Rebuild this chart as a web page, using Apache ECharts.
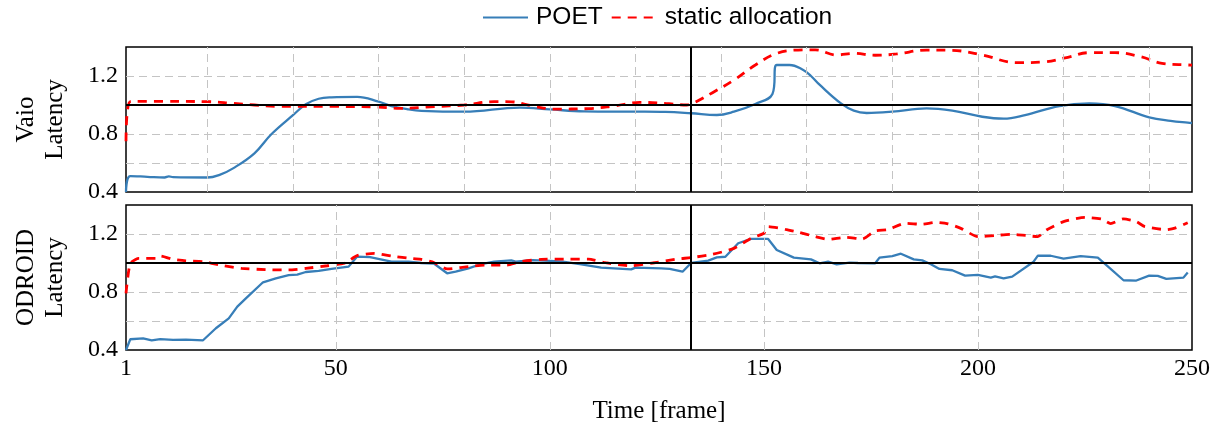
<!DOCTYPE html>
<html>
<head>
<meta charset="utf-8">
<script src="https://cdn.jsdelivr.net/npm/echarts@6/dist/echarts.min.js"></script>
<style>html,body{margin:0;padding:0;background:#fff;}#c{width:1217px;height:425px;}</style>
</head>
<body>
<div id="c"></div>
<script>
// ---- data ----
const xLabelValues = [1, 50, 100, 150, 200, 250];
const yLabelValues = [0.4, 0.8, 1.2];
const vaioGridFrames = [20, 40, 60, 80, 100, 120, 140, 160, 180, 200, 220, 240];
const odroidGridFrames = [50, 100, 150, 200];
const switchFrame = 133;
const targetLatency = 1.0;

const vaioPoetFrames = [1, 2, 6, 10, 11, 12, 20, 23, 26, 31, 35, 40, 43, 46, 49, 55, 60, 63, 67, 70, 80, 93, 100, 108, 120, 127, 133, 139, 143, 148, 152, 153, 156, 159, 161, 163, 168, 171, 174, 180, 188, 194, 201, 206, 211, 219, 226, 232, 240, 245, 249, 250];
const vaioPoetValues = [0.40, 0.51, 0.505, 0.50, 0.508, 0.502, 0.50, 0.52, 0.563, 0.667, 0.80, 0.93, 1.005, 1.043, 1.053, 1.056, 1.023, 0.993, 0.97, 0.96, 0.954, 0.982, 0.97, 0.956, 0.954, 0.952, 0.943, 0.931, 0.954, 1.007, 1.076, 1.276, 1.276, 1.245, 1.20, 1.14, 1.011, 0.961, 0.945, 0.954, 0.977, 0.961, 0.919, 0.906, 0.931, 0.993, 1.011, 0.993, 0.915, 0.89, 0.878, 0.876];

const vaioStaticFrames = [1, 2, 10, 20, 26, 31, 37, 50, 60, 65, 73, 80, 87, 91, 96, 101, 109, 115, 121, 127, 132, 134, 138, 143, 148, 153, 158, 162, 167, 171, 176, 181, 188, 194, 201, 209, 215, 221, 226, 232, 238, 243, 249, 250];
const vaioStaticValues = [0.75, 1.023, 1.025, 1.023, 1.011, 1.0, 0.99, 0.99, 0.985, 0.977, 0.989, 1.0, 1.023, 1.022, 0.993, 0.972, 0.975, 0.993, 1.018, 1.011, 1.0, 1.02, 1.085, 1.172, 1.276, 1.356, 1.379, 1.38, 1.345, 1.356, 1.343, 1.352, 1.379, 1.377, 1.345, 1.292, 1.296, 1.329, 1.361, 1.361, 1.333, 1.287, 1.276, 1.275];

const odroidPoetFrames = [1, 2, 5, 7, 9, 12, 15, 19, 22, 25, 27, 29, 33, 36, 39, 41, 43, 46, 49, 53, 55, 58, 63, 67, 70, 73, 76, 78, 81, 84, 87, 91, 92, 96, 100, 103, 107, 112, 119, 120, 126, 128, 131, 133, 137, 139, 141, 144, 147, 151, 153, 157, 161, 163, 165, 167, 170, 172, 176, 177, 180, 182, 185, 187, 189, 191, 194, 197, 200, 203, 204, 206, 208, 213, 214, 217, 220, 224, 228, 230, 234, 237, 240, 242, 244, 248, 249];
const odroidPoetValues = [0.40, 0.474, 0.48, 0.466, 0.475, 0.47, 0.472, 0.467, 0.55, 0.618, 0.699, 0.756, 0.867, 0.894, 0.917, 0.92, 0.938, 0.945, 0.959, 0.975, 1.044, 1.04, 1.009, 1.01, 1.0, 0.995, 0.929, 0.94, 0.963, 0.993, 1.009, 1.018, 1.009, 1.02, 1.015, 1.009, 0.993, 0.968, 0.956, 0.968, 0.963, 0.959, 0.94, 1.0, 1.016, 1.039, 1.043, 1.136, 1.166, 1.166, 1.09, 1.037, 1.025, 0.998, 1.009, 0.991, 1.002, 1.0, 0.998, 1.037, 1.048, 1.064, 1.025, 1.018, 0.991, 0.959, 0.95, 0.913, 0.918, 0.899, 0.908, 0.894, 0.906, 1.009, 1.051, 1.05, 1.03, 1.048, 1.037, 0.986, 0.881, 0.879, 0.913, 0.911, 0.89, 0.899, 0.935];

const odroidStaticFrames = [1, 2, 4, 8, 9, 12, 15, 19, 23, 28, 34, 39, 43, 48, 52, 55, 59, 63, 68, 70, 73, 76, 81, 85, 90, 93, 98, 104, 109, 113, 119, 124, 130, 133, 138, 143, 147, 150, 151, 155, 158, 162, 165, 169, 173, 176, 179, 183, 187, 190, 193, 196, 200, 204, 208, 214, 216, 220, 225, 229, 231, 234, 237, 239, 244, 246, 249];
const odroidStaticValues = [0.79, 0.998, 1.032, 1.032, 1.048, 1.025, 1.014, 1.009, 0.986, 0.963, 0.954, 0.952, 0.963, 0.981, 0.998, 1.051, 1.067, 1.048, 1.03, 1.025, 1.002, 0.959, 0.975, 0.986, 0.986, 1.009, 1.025, 1.027, 1.027, 1.002, 0.981, 1.0, 1.028, 1.037, 1.06, 1.101, 1.17, 1.205, 1.251, 1.232, 1.213, 1.182, 1.163, 1.177, 1.166, 1.221, 1.23, 1.274, 1.267, 1.28, 1.27, 1.239, 1.182, 1.19, 1.198, 1.182, 1.228, 1.285, 1.315, 1.302, 1.272, 1.304, 1.285, 1.251, 1.23, 1.24, 1.277];

// ---- build ----
const pairs = (fs, vs) => fs.map((f, i) => [f, vs[i]]);
const BLUE = '#377eb8';
const RED = '#ff0000';
const SERIF = '"Liberation Serif", "Times New Roman", serif';
const SANS = '"Liberation Sans", Arial, sans-serif';

function refSeries(idx, gridFrames) {
  const gridStyle = { color: '#c4c4c4', width: 1, type: [8, 5] };
  const blackStyle = { color: '#000', width: 2, type: 'solid' };
  const data = gridFrames.map(f => ({ xAxis: f, lineStyle: gridStyle }));
  data.push({ xAxis: switchFrame, lineStyle: blackStyle });
  data.push({ yAxis: targetLatency, lineStyle: blackStyle });
  return {
    type: 'line', xAxisIndex: idx, yAxisIndex: idx, data: [[1, 1]], z: 1,
    symbol: 'none', lineStyle: { opacity: 0 }, silent: true, legendHoverLink: false,
    markLine: { silent: true, symbol: ['none', 'none'], label: { show: false }, animation: false, data: data }
  };
}

function poet(idx, fs, vs, smooth) {
  return { name: 'POET', type: 'line', xAxisIndex: idx, yAxisIndex: idx, data: pairs(fs, vs), z: 3,
    symbol: 'none', smooth: smooth, lineStyle: { color: BLUE, width: 2.3 }, itemStyle: { color: BLUE, opacity: 0 } };
}
function stat(idx, fs, vs, smooth) {
  return { name: 'static allocation', type: 'line', xAxisIndex: idx, yAxisIndex: idx, data: pairs(fs, vs), z: 4,
    symbol: 'none', smooth: smooth, lineStyle: { color: RED, width: 2.8, type: [9, 7] }, itemStyle: { color: RED, opacity: 0 } };
}

function yAxis(idx, name) {
  return {
    type: 'value', gridIndex: idx, min: 0.4, max: 1.4, interval: 0.2,
    name: name, nameLocation: 'middle', nameRotate: 90, nameGap: 56,
    nameTextStyle: { fontFamily: SERIF, fontSize: 25, lineHeight: 29, color: '#000' },
    axisLine: { show: false }, axisTick: { show: false },
    axisLabel: { fontFamily: SERIF, fontSize: 24, color: '#000', margin: 8,
      formatter: v => yLabelValues.some(l => Math.abs(l - v) < 1e-6) ? v.toFixed(1) : '' },
    splitLine: { show: true, showMinLine: false, showMaxLine: false, lineStyle: { color: '#c4c4c4', width: 1, type: [8, 5] } }
  };
}

const option = {
  animation: false,
  backgroundColor: '#fff',
  legend: {
    top: 5, left: 482, padding: 0, itemWidth: 45, itemHeight: 14, itemGap: 8,
    itemStyle: { opacity: 0 },
    textStyle: { fontFamily: SANS, fontSize: 24.5, color: '#000', padding: [0, 0, 0, 3] },
    data: ['POET', 'static allocation']
  },
  grid: [
    { left: 126, right: 25, top: 47, height: 145, show: true, borderColor: '#000', borderWidth: 1.5, backgroundColor: 'transparent' },
    { left: 126, right: 25, top: 205, height: 145, show: true, borderColor: '#000', borderWidth: 1.5, backgroundColor: 'transparent' }
  ],
  xAxis: [
    { type: 'value', gridIndex: 0, min: 1, max: 250, axisLine: { show: false }, axisTick: { show: false },
      axisLabel: { show: false }, splitLine: { show: false } },
    { type: 'value', gridIndex: 1, min: 1, max: 250, axisLine: { show: false }, axisTick: { show: false },
      splitLine: { show: false },
      name: 'Time [frame]', nameLocation: 'middle', nameGap: 49,
      nameTextStyle: { fontFamily: SERIF, fontSize: 25, color: '#000' },
      axisLabel: { customValues: xLabelValues, fontFamily: SERIF, fontSize: 24, color: '#000', margin: 7, showMinLabel: true, showMaxLabel: true } }
  ],
  yAxis: [yAxis(0, 'Vaio\nLatency'), yAxis(1, 'ODROID\nLatency')],
  series: [
    refSeries(0, vaioGridFrames),
    refSeries(1, odroidGridFrames),
    poet(0, vaioPoetFrames, vaioPoetValues, 0.4),
    stat(0, vaioStaticFrames, vaioStaticValues, 0.4),
    poet(1, odroidPoetFrames, odroidPoetValues, false),
    stat(1, odroidStaticFrames, odroidStaticValues, 0.2)
  ]
};
const chart = echarts.init(document.getElementById('c'), null, { renderer: 'canvas' });
chart.setOption(option);
</script>
</body>
</html>
